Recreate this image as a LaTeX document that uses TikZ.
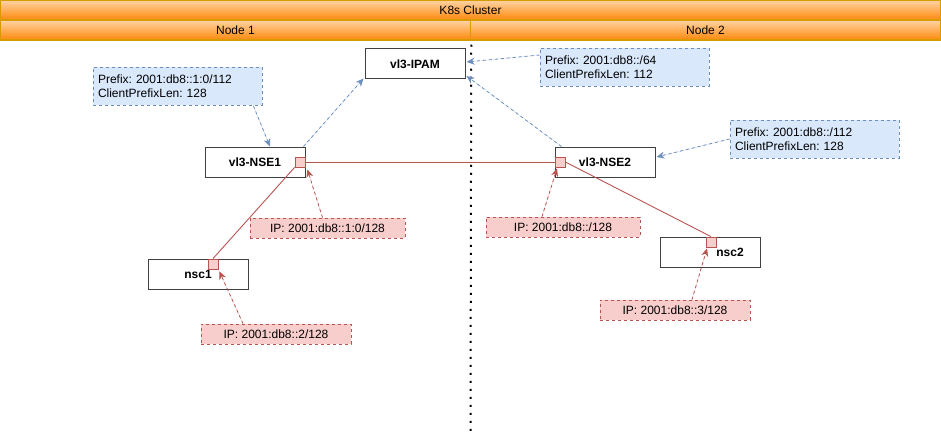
\documentclass[tikz,border=0pt]{standalone}
\usepackage{fontspec}
\setmainfont{Liberation Sans}
\usepackage{xcolor}
\usepackage{tikz}
\usetikzlibrary{arrows.meta, positioning}
\frenchspacing
\definecolor{headtop}{RGB}{255,212,165}
\definecolor{headbot}{RGB}{255,136,10}
\definecolor{headline}{RGB}{215,155,0}
\definecolor{prefixbg}{HTML}{DAE8FC}
\definecolor{prefixline}{HTML}{6C8EBF}
\definecolor{ipbg}{HTML}{F8CECC}
\definecolor{ipline}{HTML}{B85450}

\begin{document}
\begin{tikzpicture}[x=1pt, y=-1pt,
    header/.style={rectangle, draw=headline, line width=1.5pt, top color=headtop, bottom color=headbot, minimum height=20pt, inner sep=0pt, font=\fontsize{12}{14}\selectfont},
    box/.style={rectangle, draw=black!75, line width=1pt, fill=white, minimum width=100pt, minimum height=30pt, inner sep=0pt, font=\bfseries\fontsize{12}{14}\selectfont},
    port/.style={rectangle, draw=ipline, line width=0.8pt, fill=ipbg, minimum size=10pt, inner sep=0pt},
    prefixnote/.style={rectangle, draw=prefixline, dash pattern=on 3pt off 3pt, line width=0.8pt, fill=prefixbg, minimum height=38pt, text width=159pt, inner xsep=5pt, align=left, font=\fontsize{12}{14.4}\selectfont},
    ipnote/.style={rectangle, draw=ipline, dash pattern=on 3pt off 3pt, line width=0.8pt, fill=ipbg, minimum height=20pt, inner sep=0pt, font=\fontsize{12}{14}\selectfont},
    link/.style={draw=ipline, line width=0.9pt},
    arrow/.style={-{Stealth[length=8pt, width=7pt]}, dash pattern=on 3pt off 3pt, line width=0.8pt},
    ipamarrow/.style={arrow, draw=prefixline, fill=prefixline},
    iparrow/.style={arrow, draw=ipline, fill=ipline}
]
\useasboundingbox (0,0) rectangle (941,433);

% header
\node[header, minimum width=940pt] (cluster) at (470.5,10) {K8s Cluster};
\node[header, minimum width=470pt] (node1) at (235.5,30) {Node 1};
\node[header, minimum width=470pt] (node2) at (705.5,30) {Node 2};
\coordinate (split) at (470.5,433);
\draw[line width=2pt, dash pattern=on 2pt off 6pt] ([yshift=-4pt]node1.south east) -- (split);

% boxes
\node[box] (ipam) at (415,64) {vl3-IPAM};
\node[box] (nse1) at (255,162) {vl3-NSE1};
\node[box] (nse2) at (605,162) {vl3-NSE2};
\node[box] (nsc1) at (198,274) {nsc1};
\node[box] (nsc2) at (710,252) {\hspace*{40pt}nsc2};

% ports
\node[port] (p1) at (300,162) {};
\node[port] (p2) at (560,162) {};
\node[port] (p3) at (213,264) {};
\node[port] (p4) at (711,242) {};

% notes
\node[prefixnote] (pfx1) at (177.5,86.5) {Prefix: 2001:db8::1:0/112\\ClientPrefixLen: 128};
\node[prefixnote] (pfx2) at (624.5,67) {Prefix: 2001:db8::/64\\ClientPrefixLen: 112};
\node[prefixnote] (pfx3) at (814.5,139) {Prefix: 2001:db8::/112\\ClientPrefixLen: 128};
\node[ipnote, minimum width=155pt] (ip1) at (327.5,228) {IP: 2001:db8::1:0/128};
\node[ipnote, minimum width=150pt] (ip2) at (276,334) {IP: 2001:db8::2/128};
\node[ipnote, minimum width=154pt] (ip3) at (563,227) {IP: 2001:db8::/128};
\node[ipnote, minimum width=150pt] (ip4) at (675,310) {IP: 2001:db8::3/128};

% links
\draw[link] (p1.east) -- (p2.west);
\draw[link] (p1.south west) -- (p3.north);
\draw[link] (p2.east) -- (p4.north);

% ipam
\draw[ipamarrow] ([xshift=-9pt]pfx1.south east) -- ([xshift=15pt]nse1.north);
\draw[ipamarrow] ([xshift=-2pt]nse1.north east) -- ([xshift=-1pt,yshift=1pt]ipam.south west);
\draw[ipamarrow] ([yshift=12pt]pfx2.west) -- ([xshift=1pt,yshift=2pt]ipam.east);
\draw[ipamarrow] ([xshift=7pt]nse2.north west) -- ([xshift=1pt,yshift=-12pt]ipam.east);
\draw[ipamarrow] (pfx3.west) -- ([xshift=1pt,yshift=5pt]nse2.east);

% addresses
\draw[iparrow] ([xshift=-5pt]ip1.north) -- ([xshift=2pt,yshift=-2pt]p1.south east);
\draw[iparrow] ([xshift=-33pt]ip2.north) -- ([xshift=1pt,yshift=-2pt]p3.south east);
\draw[iparrow] ([xshift=-21pt]ip3.north) -- ([xshift=-3pt,yshift=-1pt]p2.south);
\draw[iparrow] ([xshift=17pt]ip4.north) -- ([xshift=-4pt,yshift=-1pt]p4.south);

\end{tikzpicture}
\end{document}
